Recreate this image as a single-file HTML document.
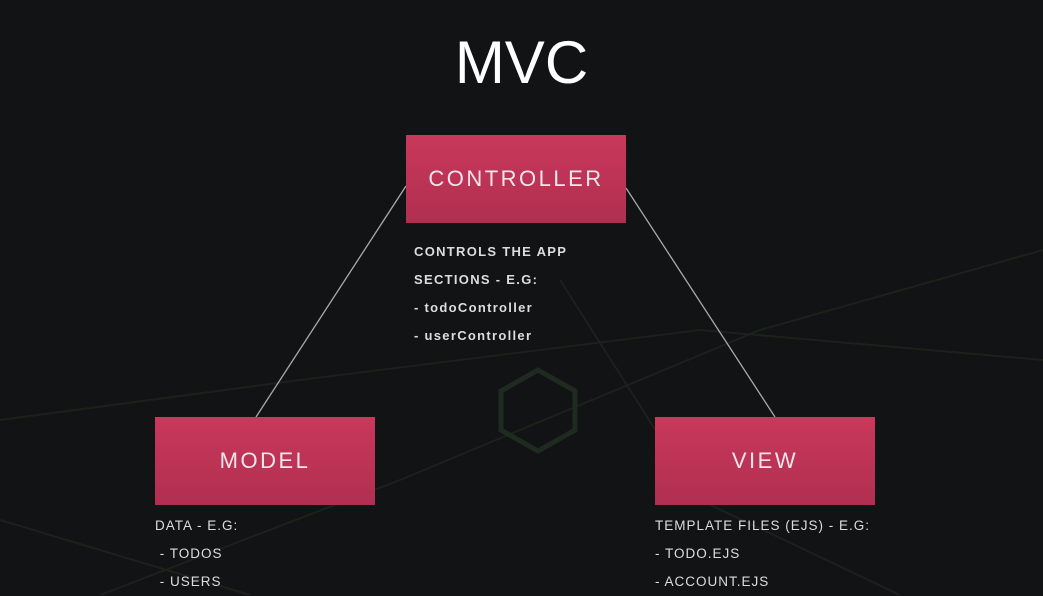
<!DOCTYPE html>
<html><head><meta charset="utf-8"><style>
body{margin:0;width:1043px;height:595px;overflow:hidden;background:#121314;font-family:"Liberation Sans",sans-serif;position:relative}
.t{position:absolute;left:0;width:1043px;top:28px;text-align:center;color:#fff;font-size:60px;letter-spacing:0px}
.box{position:absolute;width:220px;height:88px;background:linear-gradient(#c9385b,#b02f50);color:#f3e6ea;display:flex;align-items:center;justify-content:center;font-size:22px;letter-spacing:2.5px}
.tx{position:absolute;color:#ddd;font-size:13px;letter-spacing:1.3px;line-height:28px;font-weight:bold}
.tx2{position:absolute;color:#ddd;font-size:13.5px;letter-spacing:1px;line-height:28px}
</style></head><body>
<svg width="1043" height="595" style="position:absolute;left:0;top:0">
<g stroke="#1a221b" stroke-width="2" fill="none">
<path d="M0 420 L300 380 L700 330 L1043 360"/><path d="M100 595 L400 480 L760 330 L1043 250"/>
<path d="M560 280 L700 500 L900 595"/><path d="M0 520 L250 595"/>
<polygon points="538,370 575,391 575,430 538,451 501,430 501,391" stroke="#1f2a20" stroke-width="5"/>
</g>
<g stroke="#aaa" stroke-width="1.3">
<line x1="406" y1="186" x2="256" y2="417"/><line x1="626" y1="188" x2="775" y2="417"/>
</g>
</svg>
<div class="t">MVC</div>
<div class="box" style="left:406px;top:135px">CONTROLLER</div>
<div class="box" style="left:155px;top:417px">MODEL</div>
<div class="box" style="left:655px;top:417px">VIEW</div>
<div class="tx" style="left:414px;top:238px">CONTROLS THE APP<br>SECTIONS - E.G:<br>- todoController<br>- userController</div>
<div class="tx2" style="left:155px;top:512px">DATA - E.G:<br>&nbsp;- TODOS<br>&nbsp;- USERS</div>
<div class="tx2" style="left:655px;top:512px">TEMPLATE FILES (EJS) - E.G:<br>- TODO.EJS<br>- ACCOUNT.EJS</div>
</body></html>
